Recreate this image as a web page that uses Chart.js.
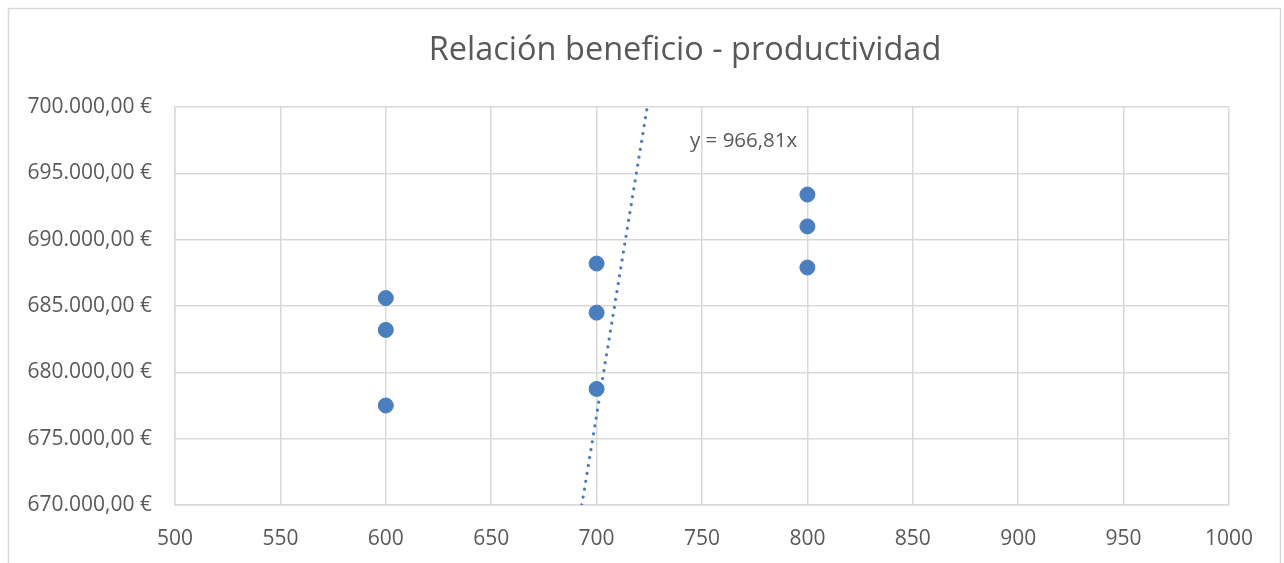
<!DOCTYPE html>
<html>
<head>
<meta charset="utf-8">
<script src="https://cdn.jsdelivr.net/npm/chart.js@4/dist/chart.umd.min.js"></script>
<style>
  html, body { margin: 0; padding: 0; background: #fff; }
  #wrap { width: 1284px; height: 563px; position: relative; }
</style>
</head>
<body>
<div id="wrap"><canvas id="c" width="1284" height="563"></canvas></div>
<script>
// Productividad (unidades) y beneficio (€) por observación
const productividad = [600, 600, 600, 700, 700, 700, 800, 800, 800];
const beneficio = [685600, 683200, 677500, 688200, 684500, 678750, 693400, 691000, 687900];

// Línea de tendencia lineal con intersección en cero: y = 966,81x
const pendienteTendencia = 966.81;
const etiquetaTendencia = 'y = 966,81x';

// Límites y pasos de los ejes
const ejeXMin = 500, ejeXMax = 1000, ejeXPaso = 50;
const ejeYMin = 670000, ejeYMax = 700000, ejeYPaso = 5000;

const titulo = 'Relación beneficio - productividad';

const FONT = '"Open Sans", "Liberation Sans", sans-serif';
const TEXT = '#595959';
const GRID = '#d9d9d9';
const AZUL = '#4a7ebf';

const puntos = productividad.map((x, i) => ({ x, y: beneficio[i] }));
const tendencia = [
  { x: ejeYMin / pendienteTendencia, y: ejeYMin },
  { x: ejeYMax / pendienteTendencia, y: ejeYMax }
];

const formatoEuro = v => v.toLocaleString('es-ES', { minimumFractionDigits: 2, maximumFractionDigits: 2, useGrouping: 'always' }).replace(/\u00a0/g, '') + ' €';

// Marco del gráfico, título y etiqueta de la tendencia
const decorado = {
  id: 'decorado',
  beforeDraw(chart) {
    const ctx = chart.ctx;
    ctx.save();
    ctx.fillStyle = '#fff';
    ctx.fillRect(0, 0, chart.width, chart.height);
    ctx.strokeStyle = GRID;
    ctx.lineWidth = 1.5;
    ctx.strokeRect(8.5, 8.5, 1272, 620);
    ctx.restore();
  },
  afterDraw(chart) {
    const ctx = chart.ctx;
    const xs = chart.scales.x, ys = chart.scales.y;
    ctx.save();
    ctx.fillStyle = TEXT;
    ctx.textBaseline = 'middle';
    ctx.textAlign = 'center';
    ctx.font = '32.5px ' + FONT;
    ctx.fillText(titulo, 685, 51);
    ctx.textAlign = 'left';
    ctx.font = '20.5px ' + FONT;
    ctx.fillText(etiquetaTendencia, xs.getPixelForValue(744.3), ys.getPixelForValue(697450));
    ctx.restore();
  }
};

new Chart(document.getElementById('c'), {
  type: 'scatter',
  data: {
    datasets: [
      {
        label: 'Beneficio',
        data: puntos,
        backgroundColor: AZUL,
        borderColor: AZUL,
        pointRadius: 7.5,
        pointHoverRadius: 7.5,
        order: 1
      },
      {
        label: 'Lineal',
        type: 'line',
        data: tendencia,
        showLine: true,
        borderColor: AZUL,
        borderWidth: 3.2,
        borderDash: [0.01, 8],
        borderCapStyle: 'round',
        pointRadius: 0,
        fill: false,
        order: 0
      }
    ]
  },
  options: {
    responsive: false,
    animation: false,
    events: [],
    layout: { padding: { top: 107, right: 55, left: 0, bottom: 0 } },
    plugins: {
      legend: { display: false },
      title: { display: false },
      tooltip: { enabled: false }
    },
    scales: {
      x: {
        type: 'linear',
        min: ejeXMin, max: ejeXMax,
        afterFit(s) { s.height = 58; },
        ticks: {
          stepSize: ejeXPaso,
          color: TEXT,
          padding: 21,
          font: { family: FONT, size: 21 },
          callback: v => String(v)
        },
        grid: { color: GRID, lineWidth: 1.5, drawTicks: false },
        border: { color: GRID, width: 1.5 }
      },
      y: {
        type: 'linear',
        min: ejeYMin, max: ejeYMax,
        afterFit(s) { s.width = 175; },
        ticks: {
          stepSize: ejeYPaso,
          color: TEXT,
          padding: 23,
          font: { family: FONT, size: 21 },
          callback: v => formatoEuro(v)
        },
        grid: { color: GRID, lineWidth: 1.5, drawTicks: false },
        border: { color: GRID, width: 1.5 }
      }
    }
  },
  plugins: [decorado]
});
</script>
</body>
</html>
